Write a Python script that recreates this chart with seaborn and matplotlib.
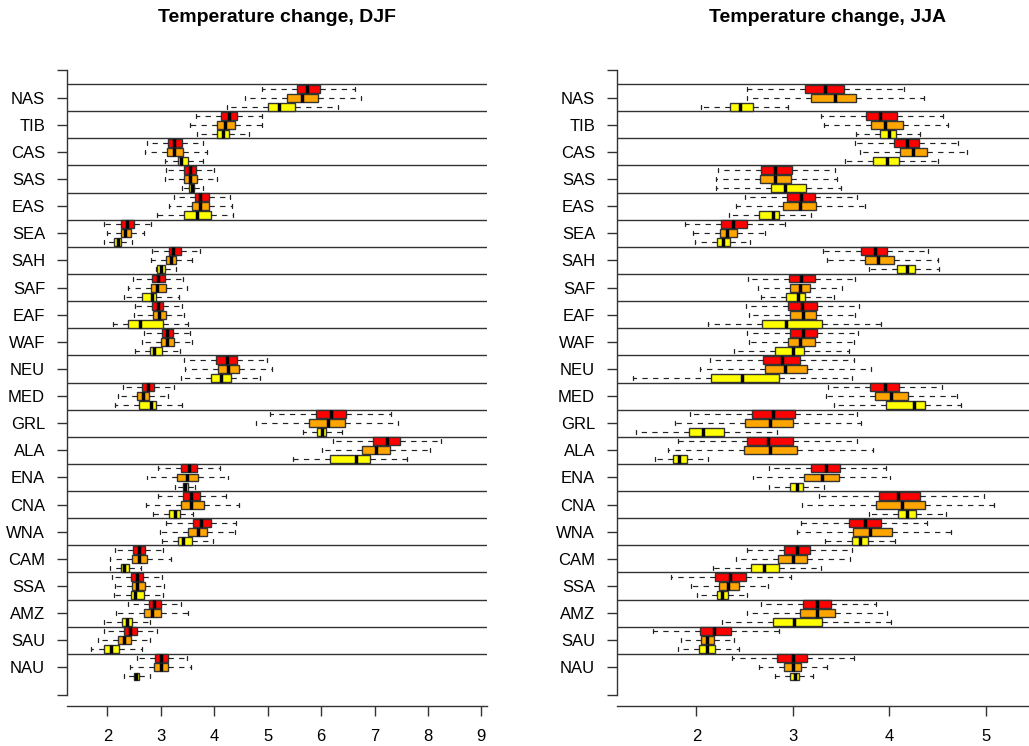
import pandas as pd
import seaborn as sns
import matplotlib.pyplot as plt

regions = ["NAS", "TIB", "CAS", "SAS", "EAS", "SEA", "SAH", "SAF", "EAF", "WAF", "NEU",
           "MED", "GRL", "ALA", "ENA", "CNA", "WNA", "CAM", "SSA", "AMZ", "SAU", "NAU"]
scenarios = ["A2", "A1B", "B1"]
colours = ["#FF0000", "#FFA500", "#FFFF00"]

# five-number summaries: whisker low, Q1, median, Q3, whisker high
djf_a2 = [[4.90, 5.54, 5.74, 5.97, 6.63], [3.66, 4.12, 4.28, 4.43, 4.89], [2.74, 3.13, 3.25, 3.40, 3.79],
          [3.09, 3.44, 3.55, 3.66, 4.00], [3.24, 3.64, 3.74, 3.91, 4.30], [1.93, 2.26, 2.36, 2.49, 2.81],
          [2.83, 3.15, 3.22, 3.38, 3.73], [2.48, 2.84, 2.95, 3.07, 3.42], [2.52, 2.84, 2.94, 3.05, 3.39],
          [2.69, 3.02, 3.11, 3.22, 3.55], [3.43, 4.04, 4.23, 4.42, 4.99], [2.29, 2.65, 2.76, 2.88, 3.25],
          [5.05, 5.91, 6.19, 6.47, 7.30], [6.22, 6.97, 7.23, 7.47, 8.25], [2.95, 3.38, 3.52, 3.67, 4.11],
          [2.94, 3.41, 3.56, 3.73, 4.22], [3.10, 3.60, 3.75, 3.93, 4.41], [2.14, 2.48, 2.59, 2.71, 3.05],
          [2.09, 2.45, 2.55, 2.67, 3.02], [2.39, 2.77, 2.87, 3.01, 3.38], [1.94, 2.32, 2.42, 2.55, 2.93],
          [2.55, 2.90, 3.01, 3.14, 3.49]]
djf_a1b = [[4.58, 5.37, 5.64, 5.94, 6.75], [3.55, 4.05, 4.20, 4.39, 4.89], [2.70, 3.11, 3.25, 3.42, 3.87],
           [3.07, 3.44, 3.55, 3.68, 4.06], [3.15, 3.59, 3.73, 3.90, 4.34], [1.99, 2.26, 2.33, 2.44, 2.69],
           [2.81, 3.10, 3.19, 3.29, 3.58], [2.39, 2.81, 2.92, 3.09, 3.49], [2.49, 2.85, 2.97, 3.09, 3.43],
           [2.64, 3.00, 3.11, 3.24, 3.59], [3.46, 4.07, 4.26, 4.47, 5.09], [2.19, 2.55, 2.66, 2.77, 3.13],
           [4.78, 5.77, 6.12, 6.44, 7.43], [6.02, 6.76, 7.02, 7.28, 8.04], [2.74, 3.30, 3.49, 3.69, 4.26],
           [2.72, 3.37, 3.57, 3.81, 4.47], [2.98, 3.50, 3.69, 3.86, 4.38], [2.04, 2.47, 2.60, 2.75, 3.19],
           [2.14, 2.47, 2.55, 2.70, 3.06], [2.17, 2.68, 2.84, 3.01, 3.51], [1.83, 2.20, 2.31, 2.44, 2.80],
           [2.43, 2.87, 3.00, 3.14, 3.57]]
djf_b1 = [[4.24, 5.00, 5.22, 5.52, 6.31], [3.68, 4.05, 4.16, 4.28, 4.65], [3.07, 3.32, 3.38, 3.50, 3.79],
          [3.39, 3.53, 3.58, 3.63, 3.79], [2.93, 3.44, 3.67, 3.94, 4.35], [1.93, 2.13, 2.19, 2.26, 2.47],
          [2.91, 2.93, 3.00, 3.07, 3.28], [2.32, 2.64, 2.83, 2.91, 3.34], [2.11, 2.38, 2.61, 3.05, 3.50],
          [2.51, 2.80, 2.87, 3.03, 3.35], [3.38, 3.93, 4.12, 4.31, 4.86], [2.15, 2.60, 2.81, 2.91, 3.39],
          [5.67, 5.93, 6.02, 6.09, 6.39], [5.47, 6.16, 6.65, 6.92, 7.61], [3.27, 3.41, 3.46, 3.50, 3.64],
          [2.85, 3.15, 3.26, 3.35, 3.61], [3.02, 3.32, 3.41, 3.58, 3.97], [2.04, 2.26, 2.32, 2.41, 2.63],
          [2.12, 2.44, 2.52, 2.68, 3.05], [1.94, 2.27, 2.37, 2.47, 2.80], [1.70, 1.94, 2.06, 2.22, 2.64],
          [2.31, 2.49, 2.54, 2.60, 2.80]]

jja_a2 = [[2.52, 3.13, 3.33, 3.53, 4.15], [3.29, 3.76, 3.90, 4.08, 4.56], [3.65, 4.05, 4.18, 4.31, 4.71],
          [2.22, 2.67, 2.82, 2.99, 3.44], [2.50, 2.94, 3.09, 3.23, 3.67], [1.88, 2.26, 2.38, 2.52, 2.92],
          [3.31, 3.71, 3.85, 3.98, 4.40], [2.54, 2.96, 3.09, 3.23, 3.65], [2.51, 2.95, 3.10, 3.25, 3.69],
          [2.53, 2.97, 3.11, 3.25, 3.68], [2.14, 2.69, 2.89, 3.07, 3.63], [3.37, 3.80, 3.96, 4.10, 4.55],
          [1.93, 2.58, 2.79, 3.02, 3.67], [1.81, 2.52, 2.74, 3.00, 3.67], [2.75, 3.19, 3.34, 3.49, 3.97],
          [3.27, 3.89, 4.09, 4.32, 4.98], [3.09, 3.58, 3.75, 3.91, 4.39], [2.52, 2.91, 3.04, 3.18, 3.61],
          [1.74, 2.19, 2.35, 2.51, 2.98], [2.67, 3.11, 3.25, 3.40, 3.86], [1.55, 2.04, 2.18, 2.36, 2.86],
          [2.37, 2.84, 3.00, 3.15, 3.63]]
jja_a1b = [[2.53, 3.19, 3.44, 3.66, 4.36], [3.32, 3.81, 3.96, 4.14, 4.61], [3.70, 4.11, 4.25, 4.39, 4.81],
           [2.20, 2.66, 2.82, 2.98, 3.46], [2.41, 2.90, 3.08, 3.24, 3.75], [1.96, 2.24, 2.32, 2.42, 2.71],
           [3.35, 3.75, 3.88, 4.05, 4.51], [2.64, 2.97, 3.08, 3.18, 3.51], [2.55, 2.97, 3.11, 3.24, 3.65],
           [2.55, 2.95, 3.08, 3.23, 3.63], [2.04, 2.71, 2.92, 3.15, 3.81], [3.34, 3.85, 4.02, 4.19, 4.70],
           [1.78, 2.50, 2.76, 3.00, 3.71], [1.71, 2.49, 2.76, 3.04, 3.83], [2.59, 3.12, 3.30, 3.48, 4.01],
           [3.10, 3.86, 4.13, 4.37, 5.09], [3.04, 3.62, 3.80, 4.03, 4.64], [2.41, 2.85, 3.00, 3.15, 3.59],
           [1.94, 2.23, 2.33, 2.44, 2.74], [2.52, 3.07, 3.25, 3.44, 3.98], [1.84, 2.05, 2.11, 2.18, 2.39],
           [2.65, 2.91, 3.00, 3.09, 3.36]]
jja_b1 = [[2.05, 2.35, 2.45, 2.59, 2.95], [3.66, 3.90, 4.00, 4.07, 4.32], [3.54, 3.83, 3.98, 4.10, 4.51],
          [2.20, 2.77, 2.92, 3.14, 3.50], [2.34, 2.65, 2.80, 2.86, 3.19], [1.99, 2.21, 2.28, 2.35, 2.56],
          [3.79, 4.08, 4.18, 4.27, 4.52], [2.67, 2.93, 3.05, 3.13, 3.43], [2.12, 2.68, 2.93, 3.30, 3.91],
          [2.39, 2.82, 3.00, 3.12, 3.58], [1.34, 2.15, 2.47, 2.86, 3.61], [3.43, 3.97, 4.26, 4.37, 4.74],
          [1.37, 1.92, 2.07, 2.29, 2.84], [1.57, 1.76, 1.82, 1.90, 2.12], [2.75, 2.97, 3.04, 3.11, 3.32],
          [3.79, 4.09, 4.18, 4.28, 4.59], [3.33, 3.61, 3.70, 3.78, 4.06], [2.17, 2.57, 2.70, 2.86, 3.29],
          [2.01, 2.21, 2.27, 2.33, 2.53], [2.27, 2.80, 3.01, 3.30, 4.02], [1.81, 2.03, 2.11, 2.19, 2.44],
          [2.82, 2.97, 3.02, 3.06, 3.21]]


def long_table(series):
    # five points per box -> quantiles land exactly on the summary values
    rows = []
    for scen, boxes in zip(scenarios, series):
        for reg, five in zip(regions, boxes):
            for v in five:
                rows.append((reg, scen, v))
    return pd.DataFrame(rows, columns=["region", "scenario", "change"])


sns.set_style("ticks")
plt.rcParams["font.family"] = ["Liberation Sans", "DejaVu Sans"]

fig = plt.figure(figsize=(10.29, 7.46), dpi=100)
W, H = 1029, 746
bottom, height = (H - 705.7) / H, (705.7 - 58) / H
ax_l = fig.add_axes([67.3 / W, bottom, 420 / W, height])
ax_r = fig.add_axes([617.3 / W, bottom, 420 / W, height])

panels = [
    (ax_l, [djf_a2, djf_a1b, djf_b1], (1.25, 9.11), range(2, 10), "Temperature change, DJF"),
    (ax_r, [jja_a2, jja_a1b, jja_b1], (1.18, 5.536), range(2, 6), "Temperature change, JJA"),
]

for ax, series, xlim, ticks, title in panels:
    df = long_table(series)
    sns.boxplot(data=df, x="change", y="region", hue="scenario", order=regions,
                hue_order=scenarios, palette=colours, saturation=1, width=1, gap=0.12,
                whis=(0, 100), linecolor="#333333", linewidth=1.0, showfliers=False,
                legend=False, ax=ax,
                medianprops=dict(color="black", linewidth=2.5),
                whiskerprops=dict(color="#222222", linewidth=0.85, linestyle=(0, (4.5, 4.5))),
                capprops=dict(color="#222222", linewidth=0.9))

    for k in range(len(regions)):
        ax.axhline(k - 0.5, color="0.2", lw=1.0, zorder=0.5)

    ax.set_xlim(*xlim)
    ax.set_ylim(22.41, -1.46)
    ax.set_yticks([-1] + list(range(len(regions))) + [len(regions)])
    ax.set_yticklabels([""] + regions + [""])
    ax.set_xticks(list(ticks))
    ax.set_xlabel("")
    ax.set_ylabel("")
    sns.despine(ax=ax)
    ax.spines["left"].set_bounds(-1, len(regions))
    for s in ("left", "bottom"):
        ax.spines[s].set_color("0.2")
        ax.spines[s].set_linewidth(1.0)
    ax.tick_params(axis="both", length=7.5, width=1.0, color="0.2", labelsize=12,
                   labelcolor="black")
    ax.tick_params(axis="y", pad=8.5)
    ax.tick_params(axis="x", pad=9)

    pos = ax.get_position()
    fig.text(pos.x0 + pos.width / 2, 1 - 17 / H, title, ha="center", va="center",
             fontsize=14, fontweight="bold", color="black")

fig.savefig("out.png", dpi=100)
plt.close(fig)
